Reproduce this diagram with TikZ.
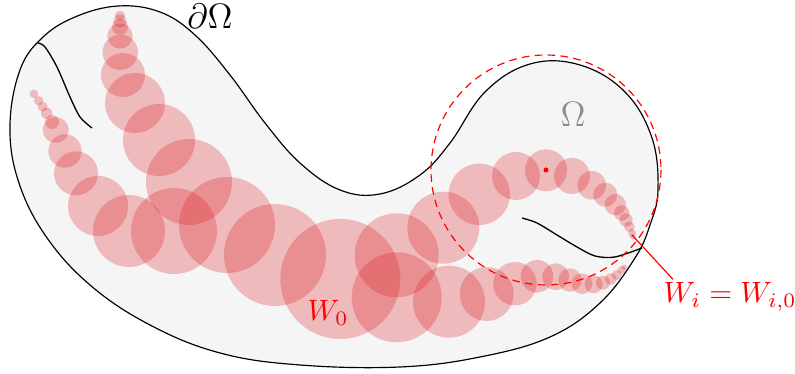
\documentclass[tikz,border=0pt]{standalone}
\usetikzlibrary{positioning}
\definecolor{diskred}{RGB}{220,30,35}
\tikzset{
  disk/.style={fill=diskred,fill opacity=0.27},
  crack/.style={black,line width=0.45pt},
  region/.style={draw=black,fill=black!4,line width=0.4pt},
}
\begin{document}
\begin{tikzpicture}[x=0.34pt,y=-0.34pt]
\useasboundingbox (0,0) rectangle (795,374);
\draw[region] plot[smooth cycle,tension=0.65] coordinates {
  (10,125) (20,70) (42,38) (75,17) (118,6) (160,12) (195,35) (230,75)
  (265,123) (300,163) (340,190) (380,194) (420,175)
  (450,143) (485,92) (530,64) (580,65) (625,92) (652,138) (658,190) (650,225)
  (635,258) (600,303) (550,337) (480,357) (400,367) (300,365) (220,353)
  (150,325) (90,285) (45,235) (18,180)};
\draw[crack] plot[smooth] coordinates {(38,43) (45,47) (57,67) (70,97) (80,117) (92,128)};
\draw[crack] plot[smooth] coordinates {(522,218) (537,223) (557,235) (577,247) (595,256) (615,257) (642,248)};
% upper chain
\fill[disk] (120,15.7) circle (5);
\fill[disk] (120,21) circle (6.5);
\fill[disk] (120,27) circle (8);
\fill[disk] (120,36) circle (12.7);
\fill[disk] (120.3,52.3) circle (17.7);
\fill[disk] (123,75) circle (22);
\fill[disk] (135,103) circle (30);
\fill[disk] (159,140) circle (36);
\fill[disk] (189,182) circle (43);
% left chain
\fill[disk] (34,94) circle (4.3);
\fill[disk] (38.7,100.7) circle (4.7);
\fill[disk] (42.7,106.7) circle (5);
\fill[disk] (46.7,113.3) circle (5.7);
\fill[disk] (52,122) circle (7);
\fill[disk] (55.7,130) circle (13);
\fill[disk] (65,151) circle (16.7);
\fill[disk] (76,173.3) circle (22);
\fill[disk] (98,206) circle (30);
\fill[disk] (129,231) circle (36);
\fill[disk] (174,231) circle (43);
% middle
\fill[disk] (227,225) circle (48);
\fill[disk] (275,255) circle (51);
\fill[disk] (340.3,279) circle (60);
% right, upper
\fill[disk] (396.7,255.3) circle (42);
\fill[disk] (443.3,227.7) circle (36);
\fill[disk] (479.3,194.3) circle (30.7);
\fill[disk] (516,176) circle (24);
\fill[disk] (546,170.3) circle (21);
\fill[disk] (572,176) circle (18);
\fill[disk] (591.7,185.3) circle (14.3);
\fill[disk] (605.3,194.7) circle (12);
\fill[disk] (615.3,204.7) circle (10.7);
\fill[disk] (621.7,213) circle (7.7);
\fill[disk] (626,220) circle (6.7);
\fill[disk] (629.3,226.7) circle (5.3);
\fill[disk] (632,233) circle (4);
\fill[disk] (633,236.7) circle (2.7);
% right, lower
\fill[disk] (396.7,297.3) circle (45);
\fill[disk] (449,301.7) circle (36);
\fill[disk] (486.7,294) circle (27);
\fill[disk] (515,283.7) circle (21.7);
\fill[disk] (537,276.3) circle (16.3);
\fill[disk] (555.7,276.7) circle (13.3);
\fill[disk] (570,280) circle (11.7);
\fill[disk] (582,283.7) circle (10.3);
\fill[disk] (593.7,284.3) circle (9);
\fill[disk] (603,282.7) circle (7);
\fill[disk] (610.7,279) circle (5.7);
\fill[disk] (616.7,275) circle (5);
\fill[disk] (621.7,270) circle (4);
\fill[disk] (624.3,267.3) circle (2.7);
\coordinate (cen) at (546,170);
\coordinate (tip) at (632,235);
\draw[red,line width=0.4pt,dash pattern=on 2.6pt off 1.8pt] (cen) circle (115);
\fill[red] (cen) circle (2.5);
\node[font=\large] (bdry) at (210,16) {$\partial\Omega$};
\node[font=\large,text=black!45] (dom) at (573,114) {$\Omega$};
\node[text=red] (w0) at (328,313) {$W_0$};
\node[text=red,anchor=base west,inner sep=0pt] (wi) at (663,303) {$W_i = W_{i,0}$};
\draw[red,line width=0.4pt] (tip) -- ([xshift=3.4pt,yshift=1pt]wi.north west);
\end{tikzpicture}
\end{document}
